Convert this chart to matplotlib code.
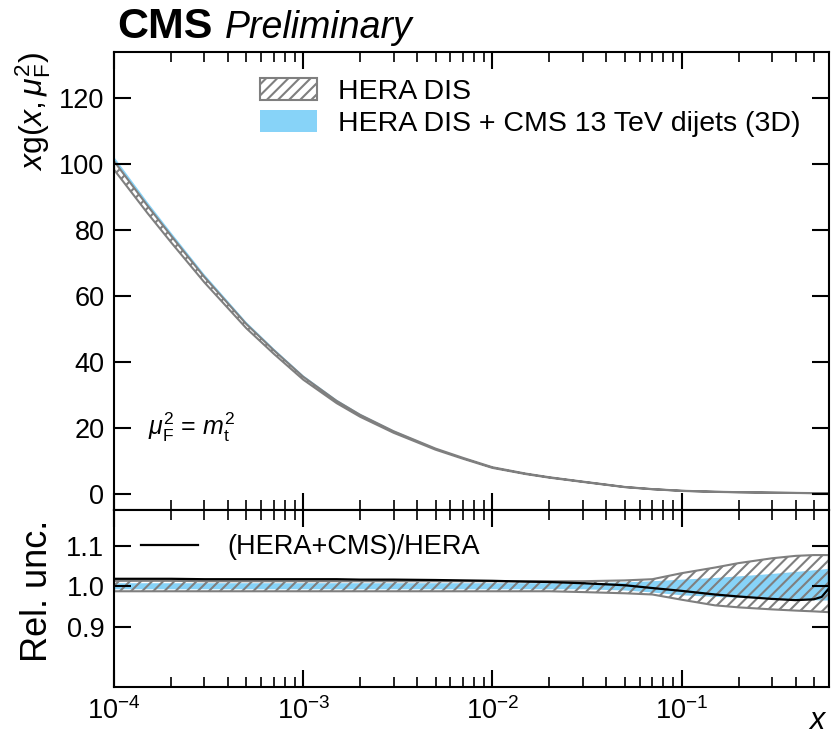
import numpy as np
import matplotlib
matplotlib.use('Agg')
import matplotlib.pyplot as plt
from matplotlib.patches import Patch
from matplotlib.lines import Line2D

# values (x, xg at mu_F^2 = m_t^2, relative uncertainties)
x = [1e-4, 1.5e-4, 2e-4, 3e-4, 5e-4, 7e-4, 1e-3, 1.5e-3, 2e-3, 3e-3, 5e-3, 7e-3,
     1e-2, 1.5e-2, 2e-2, 3e-2, 5e-2, 7e-2, 0.1, 0.15, 0.2, 0.3, 0.4, 0.5, 0.55, 0.6]
hera_xg = [99.5, 86.2, 77.2, 64.9, 50.8, 42.9, 35.0, 27.8, 23.6, 18.7, 13.5, 10.7,
           7.9, 6.0, 4.9, 3.6, 2.0, 1.35, 0.85, 0.55, 0.42, 0.28, 0.2, 0.15, 0.13, 0.12]
# (HERA+CMS)/HERA central ratio
ratio = [1.019, 1.019, 1.019, 1.018, 1.018, 1.018, 1.018, 1.018, 1.017, 1.017, 1.016, 1.015,
         1.014, 1.012, 1.011, 1.008, 1.003, 0.996, 0.989, 0.980, 0.975, 0.969, 0.966, 0.968, 0.974, 0.995]
# HERA DIS relative band
hera_up = [1.014, 1.014, 1.014, 1.013, 1.013, 1.013, 1.013, 1.013, 1.013, 1.013, 1.013, 1.013,
           1.013, 1.013, 1.013, 1.013, 1.015, 1.018, 1.033, 1.047, 1.058, 1.070, 1.076, 1.078, 1.078, 1.078]
hera_dn = [0.988, 0.988, 0.988, 0.988, 0.988, 0.988, 0.988, 0.988, 0.988, 0.988, 0.988, 0.988,
           0.988, 0.988, 0.988, 0.986, 0.983, 0.980, 0.967, 0.953, 0.948, 0.943, 0.940, 0.938, 0.937, 0.936]
# HERA DIS + CMS dijets relative band
comb_up = [1.008, 1.008, 1.008, 1.008, 1.008, 1.008, 1.008, 1.008, 1.008, 1.008, 1.008, 1.008,
           1.008, 1.008, 1.008, 1.008, 1.010, 1.013, 1.017, 1.021, 1.025, 1.031, 1.036, 1.040, 1.042, 1.044]
comb_dn = [0.993, 0.993, 0.993, 0.993, 0.993, 0.993, 0.993, 0.993, 0.993, 0.993, 0.993, 0.993,
           0.993, 0.993, 0.993, 0.993, 0.990, 0.985, 0.978, 0.974, 0.972, 0.969, 0.967, 0.966, 0.965, 0.965]

gray = '#7f7f7f'
blue = '#87d3f8'

plt.rcParams['font.family'] = ['Liberation Sans', 'DejaVu Sans']
plt.rcParams['mathtext.fontset'] = 'custom'
plt.rcParams['mathtext.rm'] = 'Liberation Sans'
plt.rcParams['mathtext.it'] = 'Liberation Sans:italic'
plt.rcParams['mathtext.bf'] = 'Liberation Sans:bold'
plt.rcParams['hatch.linewidth'] = 1.5
plt.rcParams['axes.linewidth'] = 1.5

x = np.array(x)
hera_xg = np.array(hera_xg)
comb_xg = hera_xg * np.array(ratio)

fig = plt.figure(figsize=(8.33, 7.35), dpi=100)
ax = fig.add_axes([0.137, 0.306, 0.858, 0.623])
rax = fig.add_axes([0.137, 0.0653, 0.858, 0.2408], sharex=ax)

# upper panel: absolute gluon distribution
ax.fill_between(x, comb_xg * np.array(comb_dn), comb_xg * np.array(comb_up),
                facecolor=blue, edgecolor='none', lw=0)
ax.fill_between(x, hera_xg * np.array(hera_dn), hera_xg * np.array(hera_up),
                facecolor='none', edgecolor=gray, hatch='///', lw=1.5)

# lower panel: relative uncertainties
rax.fill_between(x, comb_dn, comb_up, facecolor=blue, edgecolor='none', lw=0)
rax.fill_between(x, hera_dn, hera_up, facecolor='none', edgecolor=gray, hatch='///', lw=1.5)
rax.plot(x, ratio, color='black', lw=1.6)

ax.set_xscale('log')
ax.set_xlim(1e-4, 0.6)
ax.set_ylim(-5, 134)
ax.set_yticks(np.arange(0, 121, 20))
rax.set_ylim(0.75, 1.19)
rax.set_yticks([0.9, 1.0, 1.1])
rax.set_yticklabels(['0.9', '1.0', '1.1'])

for a in (ax, rax):
    a.tick_params(which='both', direction='in', top=True, right=True, labelsize=19.5)
    a.tick_params(which='major', length=12, width=1.5, pad=7)
    a.tick_params(which='minor', length=7, width=1.2)
ax.tick_params(labelbottom=False)

ax.set_ylabel(r'$x\mathrm{g}(x, \mu_{\mathrm{F}}^{2})$', fontsize=23, loc='top', labelpad=4)
rax.set_ylabel('Rel. unc.', fontsize=26)
rax.yaxis.set_label_coords(-0.083, 0.545)
rax.set_xlabel(r'$x$', fontsize=22, loc='right')
rax.xaxis.set_label_coords(0.998, -0.11)

ax.text(0.004, 1.03, 'CMS', transform=ax.transAxes, fontsize=31, fontweight='bold', va='baseline')
ax.text(0.155, 1.03, 'Preliminary', transform=ax.transAxes, fontsize=27, style='italic', va='baseline')
ax.text(0.048, 0.181, r'$\mu_{\mathrm{F}}^{2}$ = $m_{\mathrm{t}}^{2}$', transform=ax.transAxes,
        fontsize=18, va='center')

handles = [Patch(facecolor='none', edgecolor=gray, hatch='///', lw=1.5),
           Patch(facecolor=blue, edgecolor='none')]
ax.legend(handles, ['HERA DIS', 'HERA DIS + CMS 13 TeV dijets (3D)'], loc='upper left',
          bbox_to_anchor=(0.168, 1.0), frameon=False, fontsize=20.5, handlelength=2.0,
          handleheight=0.8, labelspacing=0.2, handletextpad=0.75)
rax.legend([Line2D([], [], color='black', lw=1.6)], ['(HERA+CMS)/HERA'], loc='upper left',
           bbox_to_anchor=(0.003, 1.0), frameon=False, fontsize=19.5, handlelength=2.1,
           handletextpad=1.1)

fig.savefig('out.png', dpi=100)
